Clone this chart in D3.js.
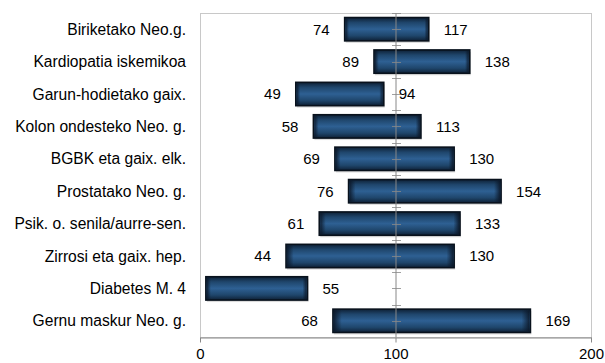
<!DOCTYPE html>
<html>
<head>
<meta charset="utf-8">
<script src="https://cdn.jsdelivr.net/npm/d3@7"></script>
<style>
  html, body { margin: 0; padding: 0; background: #fff; }
  svg { display: block; font-family: "Liberation Sans", Arial, sans-serif; }
</style>
</head>
<body>
<svg id="chart" width="605" height="363"></svg>
<script>
// Causes of death: range between the low and high value for each cause
const categories = [
  "Biriketako Neo.g.",
  "Kardiopatia iskemikoa",
  "Garun-hodietako gaix.",
  "Kolon ondesteko Neo. g.",
  "BGBK eta gaix. elk.",
  "Prostatako Neo. g.",
  "Psik. o. senila/aurre-sen.",
  "Zirrosi eta gaix. hep.",
  "Diabetes M. 4",
  "Gernu maskur Neo. g."
];
const lowValues  = [74, 89, 49, 58, 69, 76, 61, 44, 3, 68];
const highValues = [117, 138, 94, 113, 130, 154, 133, 130, 55, 169];
// the low end of the diabetes bar has no printed label
const showLow    = [true, true, true, true, true, true, true, true, false, true];
const xTicks = [0, 100, 200];

const svg = d3.select("#chart");
const margin = { left: 200, right: 14, top: 13, bottom: 26 };
const W = 605, H = 363;
const x0 = margin.left, x1 = W - margin.right;
const y0 = margin.top, y1 = H - margin.bottom;

const x = d3.scaleLinear().domain([0, 200]).range([x0, x1]);
const y = d3.scaleBand().domain(categories).range([y0, y1]).paddingInner(0.28).paddingOuter(0.14);
const step = y.step();

// gradient for the bevelled bars
const defs = svg.append("defs");
const grad = defs.append("linearGradient").attr("id", "barGrad")
  .attr("x1", 0).attr("y1", 0).attr("x2", 0).attr("y2", 1);
[["0%", "#0e2035"], ["22%", "#1f466c"], ["50%", "#2e6093"], ["78%", "#1f466c"], ["100%", "#0e2035"]]
  .forEach(([o, c]) => grad.append("stop").attr("offset", o).attr("stop-color", c));
const gradH = defs.append("linearGradient").attr("id", "barEdge")
  .attr("x1", 0).attr("y1", 0).attr("x2", 1).attr("y2", 0);
[["0%", "#0b1626", 0.85], ["4%", "#0b1626", 0], ["96%", "#0b1626", 0], ["100%", "#0b1626", 0.85]]
  .forEach(([o, c, a]) => gradH.append("stop").attr("offset", o).attr("stop-color", c).attr("stop-opacity", a));

// plot frame
svg.append("rect")
  .attr("x", x0 + 0.5).attr("y", y0 + 0.5)
  .attr("width", x1 - x0).attr("height", y1 - y0)
  .attr("fill", "none").attr("stroke", "#c8c8c8");

const data = categories.map((c, i) => ({ c, lo: lowValues[i], hi: highValues[i], showLo: showLow[i] }));

// soft shadow under each bar
svg.append("g").selectAll("rect").data(data).join("rect")
  .attr("x", d => x(d.lo) + 1)
  .attr("y", d => y(d.c) + 2)
  .attr("width", d => x(d.hi) - x(d.lo))
  .attr("height", y.bandwidth())
  .attr("fill", "#b8b8b8").attr("opacity", 0.5);

const bars = svg.append("g");
bars.selectAll("rect.bar").data(data).join("rect")
  .attr("class", "bar")
  .attr("x", d => x(d.lo))
  .attr("y", d => y(d.c))
  .attr("width", d => x(d.hi) - x(d.lo))
  .attr("height", y.bandwidth())
  .attr("fill", "url(#barGrad)")
  .attr("stroke", "#08111c").attr("stroke-width", 1.6);
bars.selectAll("rect.edge").data(data).join("rect")
  .attr("class", "edge")
  .attr("x", d => x(d.lo) + 1)
  .attr("y", d => y(d.c) + 1)
  .attr("width", d => x(d.hi) - x(d.lo) - 2)
  .attr("height", y.bandwidth() - 2)
  .attr("fill", "url(#barEdge)");

// category axis crossing at 100
const axisX = x(100) + 0.5;
const vg = svg.append("g").attr("stroke", "#888").attr("stroke-width", 1);
vg.append("line").attr("x1", axisX).attr("x2", axisX).attr("y1", y0).attr("y2", y1);
const tickYs = [];
categories.forEach((c, i) => {
  tickYs.push(y0 + i * step);
  tickYs.push(y(c) + y.bandwidth() / 2);
});
vg.selectAll("line.t").data(tickYs).join("line").attr("class", "t")
  .attr("x1", axisX - 4).attr("x2", axisX + 5)
  .attr("y1", d => Math.round(d) + 0.5).attr("y2", d => Math.round(d) + 0.5)
  .attr("stroke-opacity", 0.8);

// value labels
const lab = svg.append("g").attr("font-size", 15).attr("fill", "#000");
lab.selectAll("text.lo").data(data.filter(d => d.showLo)).join("text")
  .attr("x", d => x(d.lo) - 15)
  .attr("y", d => y(d.c) + y.bandwidth() / 2)
  .attr("dy", "0.36em").attr("text-anchor", "end")
  .text(d => d.lo);
lab.selectAll("text.hi").data(data).join("text")
  .attr("x", d => x(d.hi) + 15)
  .attr("y", d => y(d.c) + y.bandwidth() / 2)
  .attr("dy", "0.36em").attr("text-anchor", "start")
  .text(d => d.hi);

// category labels
svg.append("g").attr("font-size", 15.6).attr("fill", "#000")
  .selectAll("text").data(categories).join("text")
  .attr("x", 186)
  .attr("y", d => y(d) + y.bandwidth() / 2)
  .attr("dy", "0.36em").attr("text-anchor", "end")
  .text(d => d);

// value axis
const xAxis = svg.append("g").attr("transform", `translate(0,${y1 + 0.5})`)
  .call(d3.axisBottom(x).tickValues(xTicks).tickSize(5).tickSizeOuter(0).tickPadding(6));
xAxis.select(".domain").attr("stroke", "#888");
xAxis.selectAll(".tick line").attr("stroke", "#888");
xAxis.selectAll(".tick text").attr("font-size", 15).attr("fill", "#000")
  .attr("font-family", "\"Liberation Sans\", Arial, sans-serif");
</script>
</body>
</html>
